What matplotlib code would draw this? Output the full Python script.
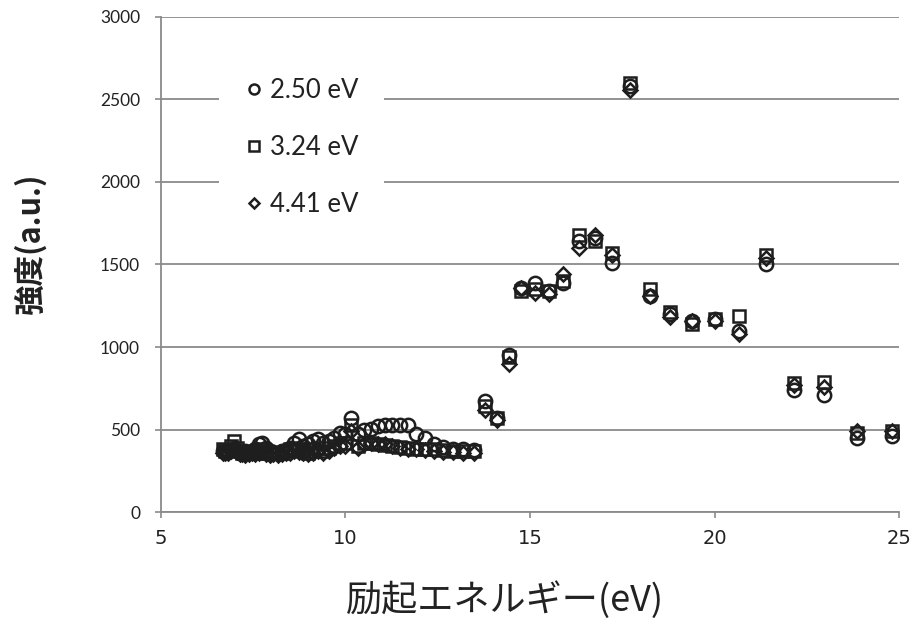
# Excitation-energy dependence of emission intensity (3 emission energies)

import matplotlib
matplotlib.use("Agg")
import matplotlib.pyplot as plt

# excitation energy (eV)
energy = [6.67, 6.74, 6.81, 6.89, 6.97, 7.05, 7.13, 7.21, 7.29, 7.38,
          7.47, 7.56, 7.65, 7.75, 7.85, 7.95, 8.05, 8.16, 8.27, 8.38,
          8.49, 8.61, 8.73, 8.86, 8.99, 9.12, 9.25, 9.39, 9.54, 9.69,
          9.84, 10.00, 10.16, 10.33, 10.51, 10.69, 10.88, 11.07, 11.27, 11.48,
          11.70, 11.92, 12.16, 12.40, 12.65, 12.92, 13.19, 13.48, 13.78, 14.09,
          14.42, 14.76, 15.12, 15.50, 15.90, 16.32, 16.76, 17.22, 17.71, 18.24,
          18.79, 19.38, 20.00, 20.67, 21.38, 22.14, 22.96, 23.85, 24.80]

# intensity (a.u.) for each emission energy
int_250 = [370, 365, 370, 375, 380, 370, 360, 365, 370, 365,
           370, 380, 410, 420, 390, 370, 365, 360, 370, 375,
           390, 420, 440, 400, 410, 430, 440, 420, 430, 450,
           480, 470, 570, 470, 500, 505, 520, 525, 530, 530,
           525, 470, 450, 410, 395, 385, 380, 375, 670, 570,
           950, 1360, 1390, 1340, 1390, 1640, 1660, 1510, 2580, 1310,
           1200, 1160, 1170, 1100, 1500, 740, 710, 450, 460]

int_324 = [380, 370, 375, 400, 430, 390, 370, 360, 355, 360,
           365, 360, 370, 380, 360, 355, 360, 355, 360, 370,
           380, 390, 380, 370, 360, 380, 390, 370, 390, 400,
           420, 420, 530, 400, 420, 420, 410, 405, 400, 395,
           390, 385, 380, 380, 375, 370, 370, 370, 640, 570,
           940, 1340, 1350, 1340, 1400, 1680, 1640, 1570, 2600, 1350,
           1210, 1140, 1170, 1190, 1560, 780, 790, 480, 490]

int_441 = [360, 355, 360, 370, 390, 365, 350, 350, 345, 350,
           355, 350, 360, 365, 350, 345, 350, 345, 350, 355,
           360, 370, 365, 355, 350, 360, 370, 360, 370, 390,
           400, 400, 490, 390, 410, 420, 415, 410, 400, 390,
           385, 380, 375, 370, 365, 365, 360, 360, 620, 560,
           900, 1360, 1330, 1320, 1440, 1600, 1680, 1560, 2560, 1310,
           1180, 1160, 1160, 1080, 1540, 770, 760, 490, 490]

labels = ["2.50 eV", "3.24 eV", "4.41 eV"]

cjk = ["Noto Sans CJK JP", "DejaVu Sans"]
edge = "#1e1e1e"
grid_col = "#8a8a8a"

fig = plt.figure(figsize=(9.14, 6.26), dpi=100)
ax = fig.add_axes([0.176, 0.182, 0.808, 0.791])

ax.plot(energy, int_250, linestyle="none", marker="o", ms=9.6, mfc="none",
        mec=edge, mew=1.8, label=labels[0])
ax.plot(energy, int_324, linestyle="none", marker="s", ms=9.0, mfc="none",
        mec=edge, mew=1.8, label=labels[1])
ax.plot(energy, int_441, linestyle="none", marker="D", ms=7.0, mfc="none",
        mec=edge, mew=1.8, label=labels[2])

ax.set_xlim(5, 25)
ax.set_ylim(0, 3000)
ax.set_xticks([5, 10, 15, 20, 25])
ax.set_yticks(range(0, 3001, 500))

ax.grid(axis="y", color=grid_col, linewidth=1.3)
ax.set_axisbelow(True)
for side in ["top", "right"]:
    ax.spines[side].set_visible(False)
for side in ["left", "bottom"]:
    ax.spines[side].set_color(grid_col)
    ax.spines[side].set_linewidth(1.3)

ax.tick_params(axis="y", length=4, width=1.2, color=grid_col, pad=11,
               labelsize=12.5, labelcolor="#222222")
ax.tick_params(axis="x", length=4, width=1.2, color=grid_col, pad=8,
               labelsize=14, labelcolor="#222222")
for t in ax.get_yticklabels():
    t.set_family(["Lato", "DejaVu Sans"])
for t in ax.get_xticklabels():
    t.set_family(["Liberation Sans Narrow", "DejaVu Sans"])

leg = ax.legend(loc="upper left", bbox_to_anchor=(0.062, 0.955), frameon=True,
                fancybox=False, framealpha=1, edgecolor="none", facecolor="white",
                borderpad=1.0, labelspacing=1.25, handlelength=0.7,
                handletextpad=0.25, markerscale=0.75,
                prop={"family": ["Lato", "DejaVu Sans"], "size": 18.5})
for t in leg.get_texts():
    t.set_color("#222222")

fig.text(0.033, 0.612, "強度(a.u.)", rotation=90, ha="center", va="center",
         fontsize=22, family=cjk, weight="bold", color="#222222")
fig.text(0.552, 0.042, "励起エネルギー(eV)", ha="center", va="center",
         fontsize=26, family=cjk, color="#222222")

fig.savefig("out.png", dpi=100)
